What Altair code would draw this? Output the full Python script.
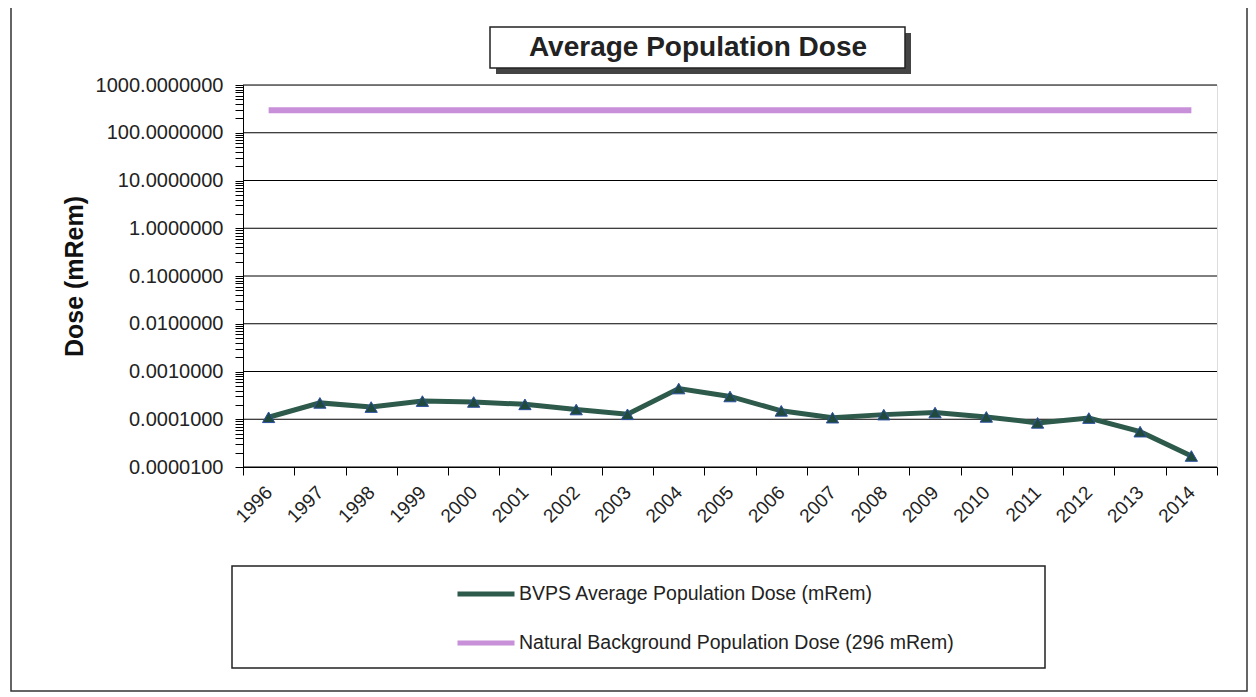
import altair as alt
import pandas as pd

years = [str(y) for y in range(1996, 2015)]
bvps_dose = [1.1e-4, 2.2e-4, 1.8e-4, 2.4e-4, 2.3e-4, 2.05e-4, 1.6e-4, 1.27e-4,
             4.4e-4, 3.0e-4, 1.5e-4, 1.08e-4, 1.25e-4, 1.38e-4, 1.12e-4, 8.4e-5,
             1.06e-4, 5.5e-5, 1.7e-5]
natural_dose = [296, 296, 296, 296, 296, 296, 296, 296, 296, 296,
                296, 296, 296, 296, 296, 296, 296, 296, 296]
series_names = ["BVPS Average Population Dose (mRem)",
                "Natural Background Population Dose (296 mRem)"]
decades = [1e-5, 1e-4, 1e-3, 1e-2, 1e-1, 1, 10, 100, 1000]
minor_mult = [2, 3, 4, 5, 6, 7, 8, 9]
title_text = "Average Population Dose"

tick_values = sorted(decades + [m * d for d in decades[:-1] for m in minor_mult])

df = pd.DataFrame({
    "year": years * 2,
    "dose": bvps_dose + natural_dose,
    "series": [series_names[0]] * len(years) + [series_names[1]] * len(years),
})
df_bvps = df[df["series"] == series_names[0]]
df_grid = pd.DataFrame({"dose": decades})
one = pd.DataFrame({"k": [0]})

FONT = "Liberation Sans"

yscale = alt.Scale(type="log", domain=[1e-5, 1000], nice=False)
xscale = alt.Scale(type="band", domain=years, paddingInner=0, paddingOuter=0)

yaxis = alt.Axis(
    title="Dose (mRem)", titleFont=FONT, titleFontSize=25, titleFontWeight="bold",
    titleColor="#111", titlePadding=8,
    values=tick_values, grid=False,
    labelExpr="abs(log(datum.value)/LN10 - round(log(datum.value)/LN10)) < 1e-6 ? format(datum.value, '.7f') : ''",
    labelFont=FONT, labelFontSize=20, labelColor="#222", labelPadding=12,
    tickColor="black", tickSize=8, domainColor="black", labelOverlap=False,
)
xaxis = alt.Axis(
    title=None, labelAngle=-45, labelAlign="right", labelBaseline="middle",
    labelFont=FONT, labelFontSize=19, labelColor="#222", labelPadding=14,
    tickBand="extent", tickSize=8, tickColor="black", domainColor="black", grid=False,
)

X = alt.X("year:N", scale=xscale, axis=xaxis)
Y = alt.Y("dose:Q", scale=yscale, axis=yaxis)

frame = alt.Chart(one).mark_rect(filled=False, stroke="#333", strokeWidth=1.5).encode(
    x=alt.value(-232), x2=alt.value(1004), y=alt.value(-79), y2=alt.value(606))

grid = alt.Chart(df_grid).mark_rule(color="black", strokeWidth=1).encode(y=Y)

color = alt.Color("series:N",
                  scale=alt.Scale(domain=series_names, range=["#2d5a4a", "#c890d8"]),
                  legend=alt.Legend(orient="none", legendX=212, legendY=478, title=None,
                                    symbolType="stroke", symbolSize=3249, symbolStrokeWidth=5,
                                    labelFont=FONT, labelFontSize=19.5, labelColor="#222",
                                    labelLimit=0, rowPadding=8, labelOffset=2,
                                    direction="vertical"))

nat_line = alt.Chart(df[df["series"] == series_names[1]]).mark_line(strokeWidth=6).encode(
    x=X, y=Y, color=color)
bvps_line = alt.Chart(df_bvps).mark_line(strokeWidth=5).encode(x=X, y=Y, color=color)
bvps_pts = alt.Chart(df_bvps).mark_point(shape="triangle-up", filled=True, size=150,
                                         fill="#1f4a3c", stroke="#2b4fa0", strokeWidth=1,
                                         opacity=1).encode(x=X, y=Y)

title_shadow = alt.Chart(one).mark_rect(fill="#444").encode(
    x=alt.value(253), x2=alt.value(668), y=alt.value(-52), y2=alt.value(-11))
title_box = alt.Chart(one).mark_rect(fill="white", stroke="#222", strokeWidth=1.5).encode(
    x=alt.value(247), x2=alt.value(662), y=alt.value(-58), y2=alt.value(-17))
title = alt.Chart(pd.DataFrame({"t": [title_text]})).mark_text(
    font=FONT, fontSize=28, fontWeight="bold", color="#222",
    align="center", baseline="middle").encode(
    text="t:N", x=alt.value(455), y=alt.value(-37))

legend_box = alt.Chart(one).mark_rect(filled=False, stroke="#222", strokeWidth=1.5).encode(
    x=alt.value(-11), x2=alt.value(802), y=alt.value(481), y2=alt.value(583))

chart = alt.layer(
    frame, grid, nat_line, bvps_line, bvps_pts, title_shadow, title_box, title, legend_box
).properties(
    width=974, height=382,
    padding={"left": 235, "top": 77, "right": 31, "bottom": 226},
    autosize=alt.AutoSizeParams(type="none"),
).configure_view(stroke="black", strokeWidth=1).configure(background="white")

chart.save("out.html", embed_options={"renderer": "svg", "actions": False})
